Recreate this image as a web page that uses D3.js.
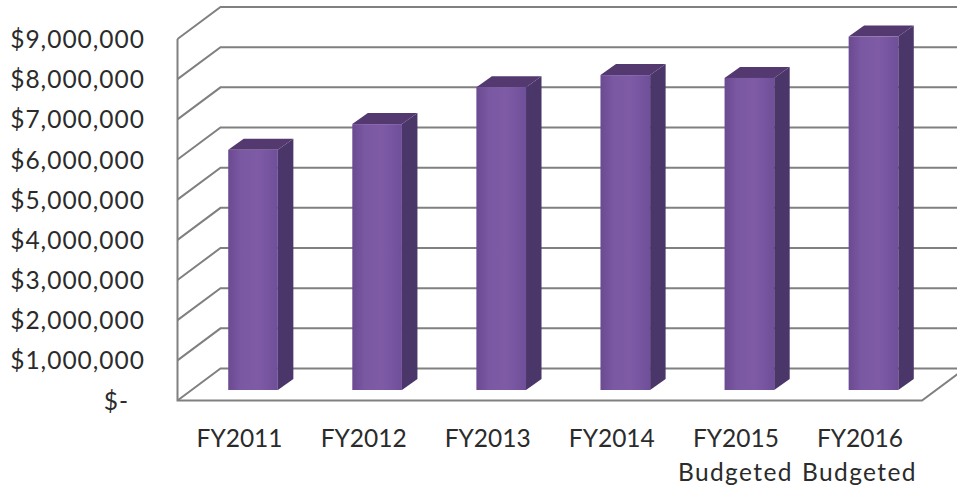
<!DOCTYPE html>
<html>
<head>
<meta charset="utf-8">
<script src="https://cdn.jsdelivr.net/npm/d3@7"></script>
<style>
html,body{margin:0;padding:0;background:#fff;}
svg{display:block;}
text{font-family:Lato,"Open Sans",sans-serif;fill:#2b2b2b;}
</style>
</head>
<body>
<script>
const categories = ["FY2011","FY2012","FY2013","FY2014","FY2015","FY2016"];
const subLabels = ["","","","","Budgeted","Budgeted"];
const budget = [5980000,6620000,7540000,7840000,7770000,8800000];
const tickValues = [0,1000000,2000000,3000000,4000000,5000000,6000000,7000000,8000000,9000000];

const W = 957, H = 488;
const depthX = 43, depthY = 32;
const svg = d3.select("body").append("svg").attr("width",W).attr("height",H);

// Front edge of the 3D box; the back wall is this plane pushed by the depth offset.
const x = d3.scaleBand().domain(categories).range([177.5,922]);
const y = d3.scaleLinear().domain([0,9000000]).range([400.5,39]);

const defs = svg.append("defs");
const grad = defs.append("linearGradient").attr("id","barFront");
[[0,"#6a4a91"],[0.25,"#7a58a2"],[0.6,"#7f5ba6"],[1,"#6f4f99"]].forEach(([o,c]) =>
  grad.append("stop").attr("offset",o).attr("stop-color",c));

// Walls and gridlines
const grid = svg.append("g").attr("fill","none").attr("stroke","#808080").attr("stroke-width",2);
grid.selectAll("path").data(tickValues).join("path")
  .attr("d", v => {
    const p = d3.path();
    p.moveTo(x.range()[0], y(v));
    p.lineTo(x.range()[0]+depthX, y(v)-depthY);
    p.lineTo(W, y(v)-depthY);
    return p.toString();
  });
const frame = d3.path();
frame.moveTo(x.range()[0], y(9000000));
frame.lineTo(x.range()[0], y(0));
frame.lineTo(x.range()[1], y(0));
frame.lineTo(x.range()[1]+depthX, y(0)-depthY);
grid.append("path").attr("d",frame.toString());

// Bars: each one stands inside the floor, partway back from the front edge
const barW = x.bandwidth()*0.4, sideX = 15.5, sideY = 11, insetX = 13.5, insetY = 10.5;
const bars = svg.append("g").selectAll("g").data(categories.map((c,i)=>({c,v:budget[i]}))).join("g")
  .attr("transform", d => `translate(${x(d.c)+x.bandwidth()/2+insetX-barW/2},${-insetY})`);

bars.append("path").attr("fill","#4a3669")
  .attr("d", d => `M${barW},${y(d.v)}L${barW+sideX},${y(d.v)-sideY}L${barW+sideX},${y(0)-sideY}L${barW},${y(0)}Z`);
bars.append("path").attr("fill","#53396f")
  .attr("d", d => `M0,${y(d.v)}L${sideX},${y(d.v)-sideY}L${barW+sideX},${y(d.v)-sideY}L${barW},${y(d.v)}Z`);
bars.append("rect").attr("fill","url(#barFront)")
  .attr("width",barW).attr("y",d=>y(d.v)).attr("height",d=>y(0)-y(d.v));

// Value axis labels
const yAxis = d3.axisLeft(y).tickValues(tickValues).tickSize(0).tickPadding(0)
  .tickFormat(v => v === 0 ? "$-" : d3.format("$,")(v));
const yG = svg.append("g").attr("transform","translate(145,0)").call(yAxis);
yG.select(".domain").remove();
yG.selectAll("text").attr("font-size",24.5).attr("letter-spacing",1).attr("dy",8.5);
yG.selectAll(".tick").filter(v=>v===0).select("text").attr("x",-16);

// Category labels, with a second line on the budgeted years
const xAxis = d3.axisBottom(x).tickSize(0).tickPadding(0);
const xG = svg.append("g").attr("transform","translate(0,447)").call(xAxis);
xG.select(".domain").remove();
xG.selectAll("text").attr("font-size",24.5).attr("dy",0).attr("y",0);
xG.selectAll(".tick").append("text")
  .attr("font-size",24.5).attr("letter-spacing",1.4).attr("text-anchor","middle").attr("x",-0.5).attr("y",34)
  .style("fill","#2b2b2b")
  .text((c,i)=>subLabels[i]);
</script>
</body>
</html>
